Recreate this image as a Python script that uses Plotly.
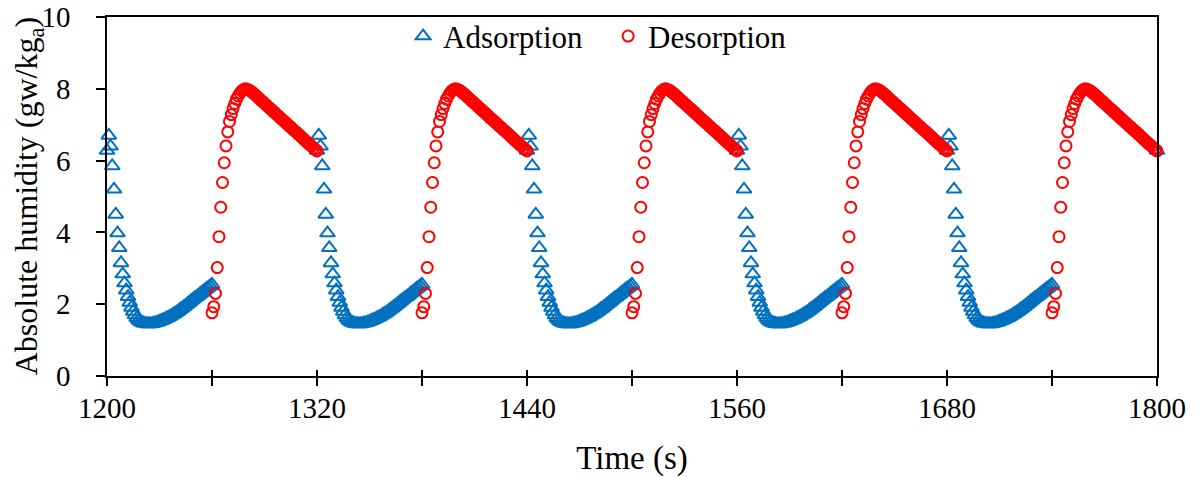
import plotly.graph_objects as go

# ---- data ----
cycle_starts = [1200, 1320, 1440, 1560, 1680, 1800]
cycle_end = 1800

# adsorption: seconds 0..60 of each 120 s cycle
ads_offset = list(range(0, 61))
ads_values = [6.28, 6.70, 6.40, 5.85, 5.20, 4.50, 3.98, 3.57, 3.15, 2.84,
              2.59, 2.39, 2.21, 2.05, 1.91, 1.80, 1.70, 1.62, 1.56, 1.52,
              1.49, 1.47, 1.46, 1.45, 1.45, 1.45, 1.46, 1.47, 1.48, 1.50,
              1.52, 1.54, 1.56, 1.58, 1.61, 1.63, 1.66, 1.69, 1.72, 1.75,
              1.78, 1.82, 1.86, 1.89, 1.93, 1.97, 2.01, 2.05, 2.09, 2.13,
              2.17, 2.20, 2.24, 2.28, 2.32, 2.36, 2.40, 2.44, 2.47, 2.51,
              2.55]

# desorption: seconds 60..120 of each cycle
des_offset = list(range(60, 121))
des_values = [1.76, 1.93, 2.30, 3.02, 3.88, 4.70, 5.39, 5.94, 6.41, 6.80,
              7.09, 7.28, 7.45, 7.59, 7.71, 7.80, 7.88, 7.94, 7.98, 8.00,
              7.99, 7.97, 7.94, 7.90, 7.86, 7.82, 7.77, 7.73, 7.68, 7.64,
              7.59, 7.55, 7.50, 7.46, 7.42, 7.37, 7.33, 7.28, 7.24, 7.19,
              7.15, 7.11, 7.06, 7.02, 6.97, 6.93, 6.88, 6.84, 6.80, 6.75,
              6.71, 6.66, 6.62, 6.57, 6.53, 6.48, 6.44, 6.40, 6.35, 6.31,
              6.27]

x_tickvals = [1200, 1260, 1320, 1380, 1440, 1500, 1560, 1620, 1680, 1740, 1800]
x_ticktext = ["1200", "", "1320", "", "1440", "", "1560", "", "1680", "", "1800"]
y_tickvals = [0, 2, 4, 6, 8, 10]
y_title = "Absolute humidity (gw/kg<sub>a</sub>)"
x_title = "Time (s)"

# ---- build the repeated cycles ----
ads_x, ads_y, des_x, des_y = [], [], [], []
for s in cycle_starts:
    for o, v in zip(ads_offset, ads_values):
        if s + o <= cycle_end:
            ads_x.append(s + o)
            ads_y.append(v)
    for o, v in zip(des_offset, des_values):
        if s + o <= cycle_end:
            des_x.append(s + o)
            des_y.append(v)

FONT = "Liberation Serif, Times New Roman, serif"
FS = 29

fig = go.Figure()
fig.add_trace(go.Scatter(
    x=ads_x, y=ads_y, mode="markers", name="Adsorption",
    marker=dict(symbol="triangle-up-open", size=13, color="#0070C0",
                line=dict(width=2, color="#0070C0")),
    cliponaxis=False))
fig.add_trace(go.Scatter(
    x=des_x, y=des_y, mode="markers", name="Desorption",
    marker=dict(symbol="circle-open", size=11, color="#FF0000",
                line=dict(width=2, color="#FF0000")),
    cliponaxis=False))
# helper trace for the inner half of the crossing x ticks
fig.add_trace(go.Scatter(x=[], y=[], xaxis="x2", yaxis="y",
                         showlegend=False, hoverinfo="skip"))

fig.update_layout(
    width=1201, height=477,
    margin=dict(l=107, r=44, t=17, b=101, autoexpand=False),
    paper_bgcolor="white", plot_bgcolor="white",
    font=dict(family=FONT, size=FS, color="black"),
    showlegend=True,
    legend=dict(orientation="h", x=0.282, xanchor="left", y=0.946,
                yanchor="middle", bgcolor="rgba(0,0,0,0)",
                font=dict(family=FONT, size=31, color="black"),
                entrywidth=160, entrywidthmode="pixels"),
    xaxis=dict(range=[1200, 1800], tickmode="array", tickvals=x_tickvals,
               ticktext=x_ticktext, ticks="outside", ticklen=8, tickwidth=1.5,
               tickcolor="black", showline=True, linecolor="black",
               linewidth=1.5, mirror=True, showgrid=False, zeroline=False,
               ticklabelstandoff=-3, automargin=False,
               title=dict(text=x_title, font=dict(family=FONT, size=33),
                          standoff=24)),
    xaxis2=dict(range=[1200, 1800], overlaying="x", anchor="y", side="bottom",
                tickmode="array", tickvals=x_tickvals, ticks="inside",
                ticklen=6, tickwidth=1.5, tickcolor="black",
                showticklabels=False, showgrid=False, zeroline=False,
                showline=False, automargin=False),
    yaxis=dict(range=[0, 10], tickmode="array", tickvals=y_tickvals,
               ticks="outside", ticklen=9, tickwidth=1.5, tickcolor="black",
               showline=True, linecolor="black", linewidth=1.5, mirror=True,
               showgrid=False, zeroline=False, ticklabelstandoff=20,
               automargin=False),
    annotations=[dict(text=y_title, xref="paper", yref="paper",
                      x=-0.0745, y=0.5, xanchor="center", yanchor="middle",
                      textangle=-90, showarrow=False,
                      font=dict(family=FONT, size=32, color="black"))],
)

fig.write_html("out.html", config={"displayModeBar": False},
               post_script="document.body.style.margin='0';"
                           "document.body.style.overflow='hidden';")
